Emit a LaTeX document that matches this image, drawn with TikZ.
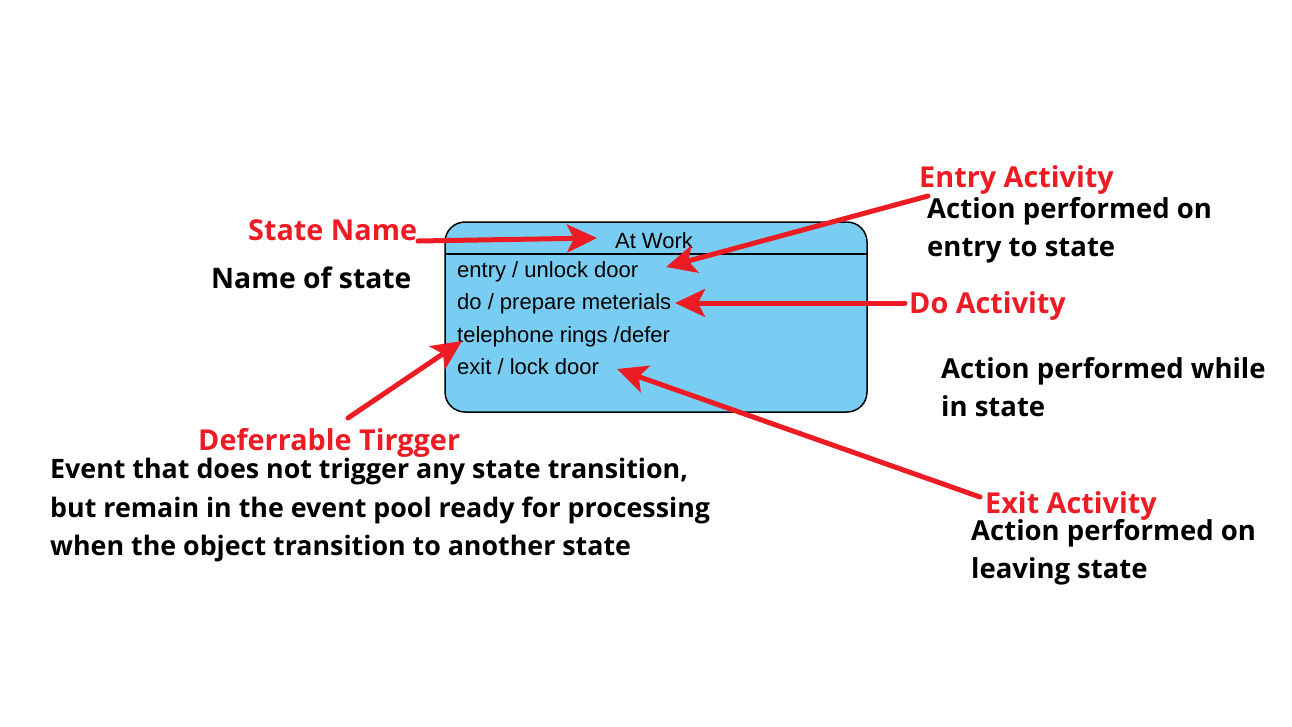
\documentclass[tikz,border=0pt]{standalone}
\usepackage{fontspec}
\setmainfont{Open Sans}
\newfontfamily\boxfont{Liberation Sans}
\usetikzlibrary{arrows.meta}
\definecolor{annred}{HTML}{ED1C24}
\definecolor{statefill}{HTML}{79CDF2}
\tikzset{
  x=1pt,y=-1pt,
  redlbl/.style={text=annred,font=\fontsize{28.8}{34}\selectfont\bfseries,inner sep=0pt,anchor=base west},
  desc/.style={text=black,font=\fontsize{27.5}{38}\selectfont\bfseries,inner sep=0pt,anchor=north west,align=left},
  boxtxt/.style={font=\boxfont\fontsize{22}{26}\selectfont,inner sep=0pt,anchor=base west},
  annarrow/.style={draw=annred,line width=5pt,line cap=round,-{Stealth[length=30pt,width=28pt,inset=7pt]}},
}
\begin{document}
\begin{tikzpicture}
\useasboundingbox (0,0) rectangle (1292,726);
\fill[white] (0,0) rectangle (1292,726);
% state box
\draw[fill=statefill,line width=1.5pt,rounded corners=20pt] (445,222) rectangle (867,412);
\draw[line width=1.5pt] (445,254) -- (867,254);
\node[font=\boxfont\fontsize{22}{26}\selectfont,inner sep=0pt,anchor=base] (name) at (654,248) {At Work};
\node[boxtxt] (entry) at (457,277) {entry / unlock door};
\node[boxtxt] (do) at (457,309) {do / prepare meterials};
\node[boxtxt] (tel) at (457,342) {telephone rings /defer};
\node[boxtxt] (exit) at (457,374) {exit / lock door};
% arrow target coordinates
\coordinate (tName) at (597,238);
\coordinate (tEntry) at (666,267);
\coordinate (tDo) at (675,303);
\coordinate (tTel) at (462,341);
\coordinate (tExit) at (617,369);
% labels
\node[redlbl] (lName) at (248,240) {State Name};
\node[text=black,font=\fontsize{28.3}{38}\selectfont\bfseries,inner sep=0pt,anchor=base west] (dName) at (211,288) {Name of state};
\node[redlbl] (lEntry) at (919,187) {Entry Activity};
\node[desc] (dEntry) at (927,197) {Action performed on\\entry to state};
\node[redlbl] (lDo) at (909,313) {Do Activity};
\node[desc] (dDo) at (941,357) {Action performed while\\in state};
\node[redlbl] (lDef) at (198,450) {Deferrable Tirgger};
\node[desc,font=\fontsize{26.8}{38.5}\selectfont\bfseries] (dDef) at (50,458) {Event that does not trigger any state transition,\\but remain in the event pool ready for processing\\when the object transition to another state};
\node[redlbl] (lExit) at (985,513) {Exit Activity};
\node[desc] (dExit) at (971,519) {Action performed on\\leaving state};
% arrows
\coordinate (sName) at (418,241);
\coordinate (sEntry) at (928,196);
\coordinate (sDo) at (905,303);
\coordinate (sDef) at (348,418);
\coordinate (sExit) at (980,497);
\draw[annarrow] (sName) -- (tName);
\draw[annarrow] (sEntry) -- (tEntry);
\draw[annarrow] (sDo) -- (tDo);
\draw[annarrow] (sDef) -- (tTel);
\draw[annarrow] (sExit) -- (tExit);
\end{tikzpicture}
\end{document}
